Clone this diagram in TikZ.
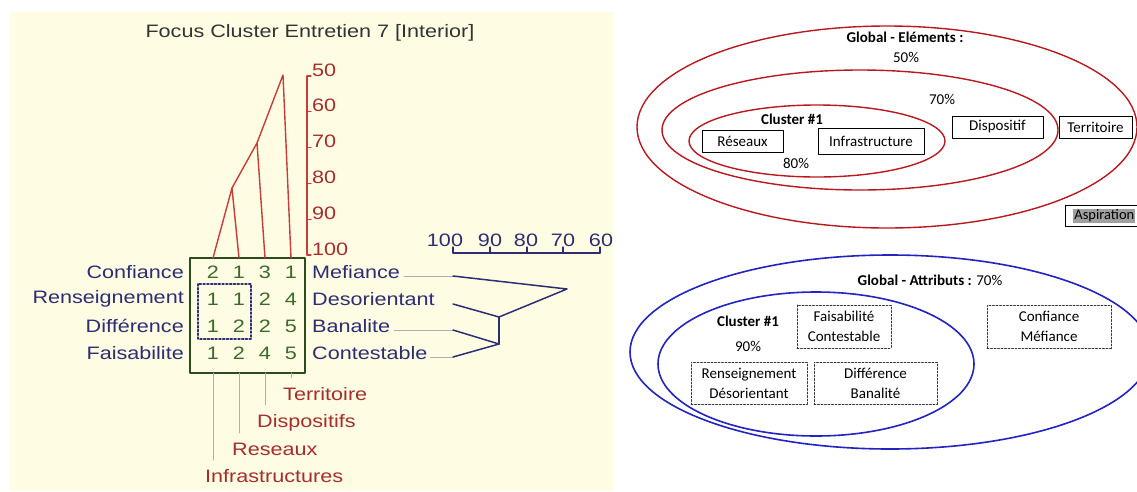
\documentclass[tikz,border=0pt]{standalone}
\usepackage{fontspec}
\setmainfont{Carlito}
\newfontfamily\plotfont[FakeStretch=1.2]{Liberation Sans}
\usetikzlibrary{positioning}

\definecolor{paper}{RGB}{254,253,228}
\definecolor{treered}{RGB}{200,60,60}
\definecolor{labred}{RGB}{165,45,45}
\definecolor{navy}{RGB}{45,45,115}
\definecolor{gridgreen}{RGB}{45,75,30}
\definecolor{numgreen}{RGB}{60,105,40}
\definecolor{leadgray}{RGB}{175,175,175}
\definecolor{ellred}{RGB}{185,25,30}
\definecolor{ellblue}{RGB}{35,35,195}
\definecolor{hlgray}{RGB}{160,160,160}

\tikzset{
  plottext/.style={font=\plotfont\fontsize{18}{20}\selectfont, inner sep=0pt},
  rowlab/.style={plottext, text=navy},
  collab/.style={plottext, text=labred, anchor=base west},
  gridnum/.style={plottext, text=numgreen},
  elembox/.style={draw, line width=0.8pt, inner sep=0pt, font=\fontsize{15}{17}\selectfont},
  attrbox/.style={draw=black!80, dash pattern=on 2pt off 1.5pt, line width=0.7pt, inner sep=0pt,
    align=center, font=\fontsize{15}{20}\selectfont},
  ringtext/.style={inner sep=0pt, font=\fontsize{15}{17}\selectfont},
  ringbold/.style={inner sep=0pt, font=\fontsize{15}{17}\selectfont\bfseries},
}

\begin{document}
\begin{tikzpicture}[x=1pt, y=-1pt, line cap=round, line join=round]
    \useasboundingbox (0,0) rectangle (1137,491);
    \clip (0,0) rectangle (1137,491);
    \fill[white] (0,0) rectangle (1137,491);

    % Left panel: background and title
    \fill[paper] (10,12) rectangle (613,491);
    \node[plottext, text=black!80] (title) at (310,33) {Focus Cluster Entretien 7 [Interior]};

    % Similarity axis (red)
    \draw[treered, line width=1.3pt] (307,76) -- (307,255);
    \foreach \v [count=\k from 0] in {50,60,70,80,90,100} {
        \draw[treered, line width=1.3pt] (307,76+35.8*\k) -- (311,76+35.8*\k);
        \node[plottext, text=labred, anchor=base west] (ax\v) at (312,76+35.8*\k) {\v};
    }

    % Element grid
    \draw[gridgreen, line width=1.4pt] (190,258) rectangle (305,373);
    \foreach \r/\a/\b/\c/\d [count=\i from 0] in {1/2/1/3/1, 2/1/1/2/4, 3/1/2/2/5, 4/1/2/4/5} {
        \node[gridnum] (g\r a) at (213,272+27*\i) {\a};
        \node[gridnum] (g\r b) at (239,272+27*\i) {\b};
        \node[gridnum] (g\r c) at (265,272+27*\i) {\c};
        \node[gridnum] (g\r d) at (291,272+27*\i) {\d};
    }
    \draw[navy, line width=1.8pt, dotted] (198,284) rectangle (251,339);

    % Construct poles
    \node[rowlab, anchor=east] (confL) at (184,272) {Confiance};
    \node[rowlab, anchor=east] (rensL) at (184,299) {Renseignement};
    \node[rowlab, anchor=east] (diffL) at (184,326) {Différence};
    \node[rowlab, anchor=east] (faisL) at (184,353) {Faisabilite};
    \node[rowlab, anchor=west] (mefR) at (312,272) {Mefiance};
    \node[rowlab, anchor=west] (desR) at (312,299) {Desorientant};
    \node[rowlab, anchor=west] (banR) at (312,326) {Banalite};
    \node[rowlab, anchor=west] (conR) at (312,353) {Contestable};

    % Element tree (red)
    \coordinate (e1) at (213,258);
    \coordinate (e2) at (239,258);
    \coordinate (e3) at (265,258);
    \coordinate (e4) at (291,258);
    \coordinate (m1) at (232,188);
    \coordinate (m2) at (257,143);
    \coordinate (m3) at (283,75);
    \draw[treered, line width=1.4pt] (e1) -- (m1) -- (e2);
    \draw[treered, line width=1.4pt] (m1) -- (m2) -- (e3);
    \draw[treered, line width=1.4pt] (m2) -- (m3) -- (e4);

    % Element names
    \node[collab] (terr) at (283,400) {Territoire};
    \node[collab] (disp) at (257,427) {Dispositifs};
    \node[collab] (rese) at (232,455) {Reseaux};
    \node[collab] (infr) at (205,482) {Infrastructures};
    \draw[leadgray, line width=0.9pt] (213,373) -- (213,460);
    \draw[leadgray, line width=0.9pt] (239,373) -- (239,433);
    \draw[leadgray, line width=0.9pt] (265,373) -- (265,405);
    \draw[leadgray, line width=0.9pt] (291,373) -- (291,378);

    % Construct scale
    \draw[navy, line width=1.2pt] (453,253) -- (600,253);
    \foreach \x/\v in {453/100, 490/90, 527/80, 563/70, 600/60} {
        \draw[navy, line width=1.2pt] (\x,253) -- (\x,247);
    }
    \node[rowlab, anchor=base] (s100) at (445,246) {100};
    \node[rowlab, anchor=base] (s90) at (490,246) {90};
    \node[rowlab, anchor=base] (s80) at (526,246) {80};
    \node[rowlab, anchor=base] (s70) at (563,246) {70};
    \node[rowlab, anchor=base] (s60) at (601,246) {60};

    % Construct tree (navy)
    \coordinate (r1) at (453,276);
    \coordinate (r2) at (453,304);
    \coordinate (r3) at (453,330);
    \coordinate (r4) at (453,357);
    \coordinate (j1) at (499,317);
    \coordinate (j2) at (499,344);
    \coordinate (j3) at (567,289);
    \draw[leadgray, line width=0.9pt] ([xshift=4pt]mefR.east |- r1) -- (r1);
    \draw[leadgray, line width=0.9pt] ([xshift=4pt]banR.east |- r3) -- (r3);
    \draw[leadgray, line width=0.9pt] ([xshift=3pt]conR.east |- r4) -- (r4);
    \draw[navy, line width=1.5pt] (r1) -- (j3) -- (j1) -- (r2);
    \draw[navy, line width=1.5pt] (r3) -- (j2) -- (r4);
    \draw[navy, line width=1.5pt] (j1) -- (j2);

    % Right panel, top: elements
    \draw[ellred, line width=1.4pt] (887,127) ellipse [x radius=250pt, y radius=101pt];
    \draw[ellred, line width=1.4pt] (860,130) ellipse [x radius=198pt, y radius=60pt];
    \draw[ellred, line width=1.4pt] (817,141) ellipse [x radius=128pt, y radius=36pt];
    \node[ringbold] (globE) at (905,37) {Global - Eléments :};
    \node[ringtext] (p50) at (906,57) {50\%};
    \node[ringtext] (p70) at (942,99) {70\%};
    \node[ringbold] (clusE) at (792,119) {Cluster \#1};
    \node[ringtext] (p80) at (796,163) {80\%};
    \node[elembox, minimum width=81pt, minimum height=22pt] (reseaux) at (742.5,141) {Réseaux};
    \node[elembox, minimum width=106pt, minimum height=26pt] (infra) at (871,141) {Infrastructure};
    \node[elembox, minimum width=91pt, minimum height=22pt] (dispo) at (997.5,127) {Dispositif};
    \node[elembox, minimum width=73pt, minimum height=22pt] (terri) at (1095.5,127) {Territoire};
    \node[elembox, anchor=west, minimum height=21pt, inner xsep=8pt, font=\fontsize{14.5}{17}\selectfont] (aspi) at (1065,216)
        {\setlength{\fboxsep}{1pt}\colorbox{hlgray}{Aspiration}};

    % Right panel, bottom: attributes
    \draw[ellblue, line width=1.6pt] (890,352) ellipse [x radius=260pt, y radius=97pt];
    \draw[ellblue, line width=1.6pt] (816,364) ellipse [x radius=158pt, y radius=72pt];
    \node[ringtext] (globA) at (930,280) {\textbf{Global - Attributs :} 70\%};
    \node[ringbold] (clusA) at (748,321) {Cluster \#1};
    \node[ringtext] (p90) at (748,346) {90\%};
    \node[attrbox, minimum width=94pt, minimum height=43pt] (faisab) at (844,326.5) {Faisabilité\\Contestable};
    \node[attrbox, minimum width=124pt, minimum height=43pt] (confia) at (1049,326.5) {Confiance\\Méfiance};
    \node[attrbox, minimum width=116pt, minimum height=42pt] (renseig) at (749,383) {Renseignement\\Désorientant};
    \node[attrbox, minimum width=123pt, minimum height=42pt] (differ) at (875.5,383) {Différence\\Banalité};
\end{tikzpicture}
\end{document}
